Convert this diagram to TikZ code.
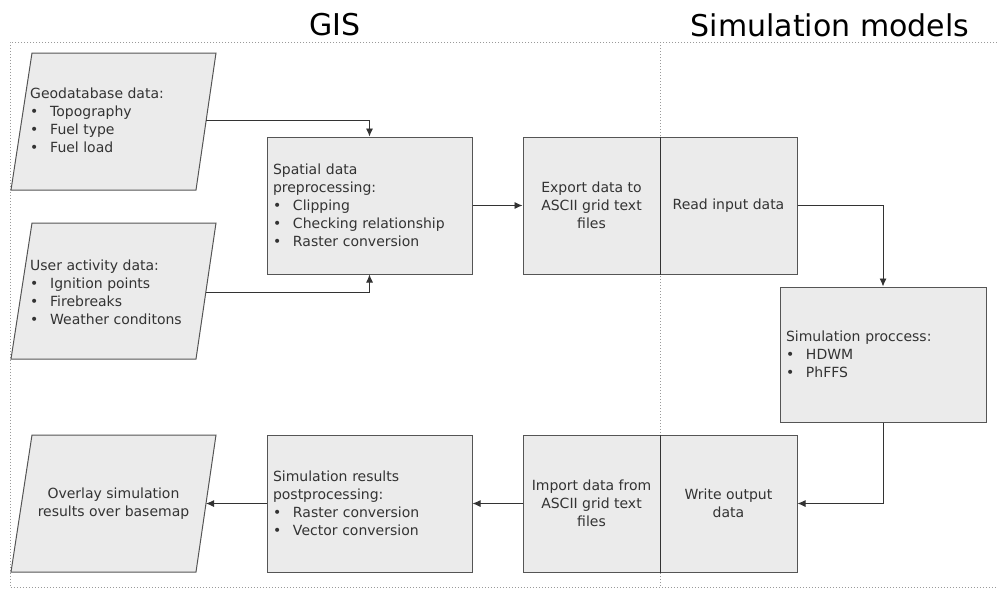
\documentclass[tikz,border=0pt]{standalone}
\usepackage{fontspec}
\setmainfont{DejaVu Sans}
\usetikzlibrary{arrows.meta}
\definecolor{boxfill}{HTML}{EBEBEB}
\definecolor{boxline}{HTML}{555555}
\definecolor{txt}{HTML}{333333}
\definecolor{frameline}{HTML}{9A9A9A}
% bullet item inside a box
\newcommand{\bitem}[1]{\makebox[20pt][l]{•}#1}
\tikzset{
  box/.style={draw=boxline, fill=boxfill, line width=1pt, inner sep=0pt,
    text=txt, font=\fontsize{14}{18}\selectfont},
  lbox/.style={box, align=left},
  cbox/.style={box, align=center},
  para/.style={draw=boxline, fill=boxfill, line width=1pt},
  ptext/.style={text=txt, font=\fontsize{14}{18}\selectfont, inner sep=0pt},
  flow/.style={draw=txt, line width=0.9pt, -{Latex[length=8pt,width=7pt]}},
  frame/.style={draw=frameline, line width=0.8pt, dash pattern=on 0.8pt off 2.2pt},
  title/.style={font=\fontsize{30}{36}\selectfont, text=black}
}
\begin{document}
\begin{tikzpicture}[x=1pt,y=-1pt]
\useasboundingbox (0,0) rectangle (997,589);

% column titles
\node[title] (tgis) at (335,25) {GIS};
\node[title] (tsim) at (830,25) {Simulation models};

% dotted swimlane frame
\draw[frame] (997,42) -- (10,42) -- (10,587) -- (997,587);
\draw[frame] (660,42) -- (660,587);

% input data (parallelograms)
\filldraw[para] (32,53) -- (216,53) -- (196,190) -- (11,190) -- cycle;
\node[ptext, anchor=west, align=left] (geo) at (30,120)
  {Geodatabase data:\\ \bitem{Topography}\\ \bitem{Fuel type}\\ \bitem{Fuel load}};
\coordinate (geoR) at (206,120);

\filldraw[para] (32,223) -- (216,223) -- (196,359) -- (11,359) -- cycle;
\node[ptext, anchor=west, align=left] (user) at (30,292)
  {User activity data:\\ \bitem{Ignition points}\\ \bitem{Firebreaks}\\ \bitem{Weather conditons}};
\coordinate (userR) at (206,292);

% output map (parallelogram)
\filldraw[para] (32,435) -- (216,435) -- (196,572) -- (11,572) -- cycle;
\node[ptext, align=center] (over) at (113.5,503.5)
  {Overlay simulation\\ results over basemap};
\coordinate (overR) at (206,503.5);

% process boxes
\node[lbox, minimum width=205pt, minimum height=137pt, text width=193pt] (spatial) at (369.5,205.5)
  {Spatial data\\ preprocessing:\\ \bitem{Clipping}\\ \bitem{Checking relationship}\\ \bitem{Raster conversion}};
\node[cbox, minimum width=137pt, minimum height=137pt] (export) at (591.5,205.5)
  {Export data to\\ ASCII grid text\\ files};
\node[cbox, minimum width=137pt, minimum height=137pt] (read) at (728.5,205.5)
  {Read input data};
\node[lbox, minimum width=206pt, minimum height=135pt, text width=194pt] (sim) at (883,354.5)
  {Simulation proccess:\\ \bitem{HDWM}\\ \bitem{PhFFS}};
\node[cbox, minimum width=137pt, minimum height=137pt] (write) at (728.5,503.5)
  {Write output\\ data};
\node[cbox, minimum width=137pt, minimum height=137pt] (import) at (591.5,503.5)
  {Import data from\\ ASCII grid text\\ files};
\node[lbox, minimum width=205pt, minimum height=137pt, text width=193pt] (post) at (369.5,503.5)
  {Simulation results\\ postprocessing:\\ \bitem{Raster conversion}\\ \bitem{Vector conversion}};

% shared edges between the GIS and simulation halves
\draw[draw=txt, line width=1.1pt] (export.north east) -- (export.south east);
\draw[draw=txt, line width=1.1pt] (import.north east) -- (import.south east);

% connectors
\draw[flow] (geoR) -| (spatial.north);
\draw[flow] (userR) -| (spatial.south);
\draw[flow] (spatial.east) -- (export.west);
\draw[flow] (read.east) -| (sim.north);
\draw[flow] (sim.south) |- (write.east);
\draw[flow] (import.west) -- (post.east);
\draw[flow] (post.west) -- (overR);
\end{tikzpicture}
\end{document}
